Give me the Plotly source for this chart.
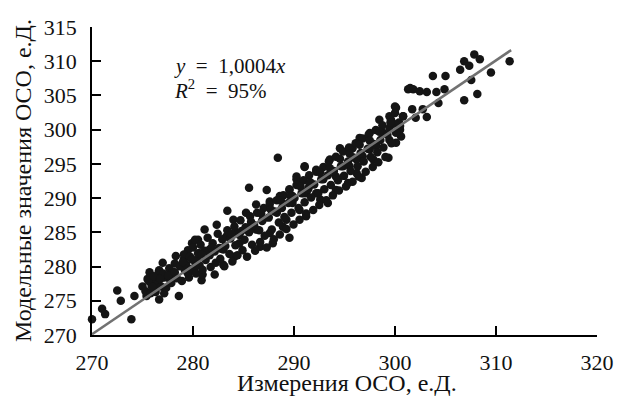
import plotly.graph_objects as go

meas_x = [
    # sparse lower-left part
    270.0, 271.0, 271.3, 272.5, 272.85, 273.9, 274.2, 275.4, 275.7, 275.5, 275.9, 276.3, 276.6, 277.0,
    277.15, 276.65, 277.15, 277.55, 277.9, 278.2, 278.6, 279.1, 277.85, 279.2, 279.5, 279.9, 280.5, 280.85,
    280.2, 279.6, 276.2,
    # 280-292 region
    288.4, 285.55, 287.3, 283.4, 291.05, 290.25, 289.55, 287.9, 286.65, 284.1, 283.0, 282.15, 280.95, 280.2,
    281.15, 282.35, 284.0, 285.25, 286.25, 287.6, 288.6, 289.55, 290.55, 288.9, 290.55, 289.25, 287.6, 286.25,
    284.6, 283.3, 281.65, 280.65, 280.4, 283.0, 284.3, 285.65, 286.9, 288.3, 289.85, 291.2, 291.2,
    # 290-302 region
    301.3, 298.45, 299.45, 300.1, 300.8, 299.35, 297.85, 296.5, 297.5, 295.35, 296.7, 293.35, 291.05, 294.55,
    295.8, 293.55, 292.2, 290.25, 291.5, 292.9, 294.15, 295.5, 296.8, 298.15, 299.45, 300.5, 298.85, 300.1,
    297.5, 296.2, 294.85, 290.95, 292.2, 289.85, 292.6, 294.15, 296.2,
    # upper-right part
    311.35, 307.85, 308.4, 306.85, 307.35, 306.45, 309.5, 307.55, 308.15, 306.85, 303.75, 305.0, 301.5, 301.8,
    302.45, 303.15, 304.1, 304.9, 304.3, 302.75, 301.7, 300.0, 300.0, 300.8, 303.15, 299.6, 300.5, 302.05,
    300.6,
    # dense band
    275.0, 275.3, 275.6, 275.8, 276.1, 276.4, 276.65, 276.85, 277.05, 277.35, 277.65, 277.75, 278.0, 278.3,
    278.4, 278.7, 278.9, 279.1, 279.3, 279.5, 279.7, 279.8, 280.0, 280.2, 280.3, 280.5, 280.65, 280.75,
    280.95, 281.15, 281.25, 281.45, 281.65, 281.75, 281.95, 282.15, 282.25, 282.45, 282.6, 282.7, 282.9, 283.1,
    283.2, 283.4, 283.6, 283.7, 283.9, 284.1, 284.2, 284.4, 284.6, 284.7, 284.9, 285.1, 285.2, 285.35,
    285.55, 285.65, 285.85, 286.05, 286.15, 286.35, 286.55, 286.65, 286.85, 287.0, 287.1, 287.3, 287.5, 287.6,
    287.8, 288.0, 288.1, 288.3, 288.5, 288.6, 288.8, 288.95, 289.05, 289.25, 289.45, 289.55, 289.75, 289.95,
    290.05, 290.25, 290.45, 290.55, 290.75, 290.95, 291.05, 291.2, 291.4, 291.5, 291.7, 291.9, 292.0, 292.2,
    292.4, 292.5, 292.7, 292.9, 293.0, 293.2, 293.35, 293.45, 293.65, 293.85, 293.95, 294.15, 294.35, 294.45,
    294.65, 294.85, 294.95, 295.15, 295.35, 295.45, 295.6, 295.8, 295.9, 296.1, 296.3, 296.4, 296.6, 296.8,
    296.9, 297.1, 297.3, 297.4, 297.6, 297.8, 297.9, 298.1, 298.25, 298.35, 298.55, 298.75, 298.85, 299.05,
    299.25, 299.45, 299.65, 299.85, 300.1, 300.4,
    # points lying on the line
    276.0, 276.75, 277.55, 278.2, 279.0, 279.9, 280.85, 281.85, 282.8, 283.8, 284.8, 285.75, 286.75, 287.7,
    288.7, 289.65, 290.65, 291.6, 292.6, 293.55, 294.55, 295.5, 296.5, 297.5, 298.45, 299.55,
]
model_y = [
    272.3, 273.85, 273.05, 276.5, 275.0, 272.3, 275.7, 275.7, 279.15, 278.2, 277.2, 276.3, 279.15, 280.55,
    278.4, 275.2, 276.1, 278.7, 278.4, 280.45, 275.7, 281.05, 277.6, 279.45, 282.4, 283.4, 283.9, 278.0,
    279.95, 278.4, 278.0,
    295.9, 291.5, 291.2, 288.15, 294.65, 293.15, 284.2, 283.4, 282.9, 281.45, 280.25, 278.85, 278.85, 283.9,
    285.4, 286.1, 286.85, 287.85, 289.05, 289.5, 290.3, 291.2, 292.2, 285.8, 288.25, 286.85, 284.9, 285.4,
    283.4, 284.4, 282.5, 281.95, 280.95, 282.5, 284.9, 285.8, 286.85, 287.85, 289.3, 290.7, 287.35,
    305.9, 301.45, 301.95, 303.2, 301.95, 295.9, 295.65, 298.8, 299.5, 292.2, 292.95, 289.3, 294.55, 297.3,
    297.3, 295.65, 294.15, 292.75, 291.7, 292.75, 293.15, 294.65, 296.1, 297.6, 298.5, 300.0, 299.5, 298.1,
    297.1, 295.65, 294.65, 290.7, 290.7, 290.3, 289.8, 291.2, 293.65,
    310.0, 311.0, 310.3, 310.0, 309.35, 308.75, 308.35, 307.25, 305.2, 304.3, 307.85, 307.85, 306.1, 305.9,
    305.6, 305.5, 305.5, 305.9, 303.9, 303.0, 303.0, 303.4, 302.45, 301.95, 301.85, 301.45, 300.55, 301.75,
    299.0,
    277.1, 276.4, 277.9, 276.1, 278.6, 277.3, 279.45, 277.1, 279.0, 276.9, 279.75, 278.0, 279.25, 281.55,
    278.3, 280.05, 277.9, 281.75, 280.35, 279.0, 281.45, 279.65, 282.8, 280.75, 279.0, 281.95, 280.15, 283.2,
    279.55, 282.3, 280.95, 284.2, 281.65, 279.95, 283.4, 282.2, 280.55, 284.8, 282.7, 281.15, 284.0, 280.05,
    283.0, 285.3, 281.85, 284.1, 280.75, 285.85, 283.1, 281.65, 284.6, 286.75, 282.4, 283.9, 285.75, 281.45,
    285.0, 287.35, 283.2, 286.05, 282.3, 287.85, 285.3, 283.6, 286.65, 288.55, 284.5, 282.8, 287.15, 289.15,
    285.4, 284.0, 288.05, 289.7, 286.45, 284.7, 288.55, 290.4, 287.25, 285.5, 289.3, 291.3, 287.85, 286.15,
    290.0, 291.9, 288.55, 286.85, 290.7, 292.6, 289.4, 287.75, 291.3, 293.35, 290.1, 288.25, 292.0, 293.85,
    290.7, 289.0, 292.75, 294.55, 291.3, 289.7, 293.35, 295.35, 291.9, 290.4, 293.95, 296.05, 292.6, 291.1,
    294.65, 296.8, 293.25, 291.7, 295.35, 297.4, 293.95, 292.4, 295.95, 298.0, 294.65, 293.15, 296.6, 298.7,
    295.35, 293.85, 297.2, 299.3, 296.0, 294.55, 297.9, 299.95, 296.7, 295.25, 298.5, 300.65, 297.4, 296.0,
    299.25, 300.25, 298.0, 300.85, 299.55, 301.05,
    277.0, 278.2, 278.7, 279.15, 280.65, 281.05, 281.75, 282.8, 282.6, 284.8, 285.2, 286.55, 287.75, 288.35,
    289.6, 290.3, 291.7, 292.3, 293.75, 294.35, 295.75, 296.5, 297.8, 298.4, 299.7, 301.05,
]

# Regression line y = 1,0004x over the measured range
slope = 1.0004
fit_x = [270.0, 311.5]
fit_y = [slope * v for v in fit_x]

x_ticks = [270, 280, 290, 300, 310, 320]
y_ticks = [270, 275, 280, 285, 290, 295, 300, 305, 310, 315]

x_title = "Измерения ОСО, е.Д."
y_title = "Модельные значения ОСО, е.Д."

FONT = "Liberation Serif"
INK = "#111111"

fig = go.Figure()
fig.add_trace(go.Scatter(
    x=meas_x, y=model_y, mode="markers",
    marker=dict(color="#151515", size=8.5, line=dict(width=0)),
    cliponaxis=False, showlegend=False, hoverinfo="skip",
))
fig.add_trace(go.Scatter(
    x=fit_x, y=fit_y, mode="lines",
    line=dict(color="#727272", width=2.5),
    showlegend=False, hoverinfo="skip",
))

fig.add_annotation(x=277.9, y=309.3, xref="x", yref="y",
                   text="<i>y</i>&nbsp; = &nbsp;1,0004<i>x</i>", showarrow=False,
                   xanchor="left", yanchor="middle",
                   font=dict(family=FONT, size=21, color=INK))
fig.add_annotation(x=277.9, y=305.8, xref="x", yref="y",
                   text="<i>R</i><sup>2</sup>&nbsp; = &nbsp;95%", showarrow=False,
                   xanchor="left", yanchor="middle",
                   font=dict(family=FONT, size=21, color=INK))

# axis titles
fig.add_annotation(x=0.505, y=0, xref="paper", yref="paper", yshift=-48,
                   text=x_title, showarrow=False, xanchor="center", yanchor="middle",
                   font=dict(family=FONT, size=24, color=INK))
fig.add_annotation(x=0, y=0.5, xref="paper", yref="paper", xshift=-69,
                   text=y_title, showarrow=False, xanchor="center", yanchor="middle",
                   textangle=-90, font=dict(family=FONT, size=24, color=INK))

axis_common = dict(
    showline=True, linecolor="black", linewidth=1.5,
    ticks="inside", ticklen=9, tickwidth=1.5, tickcolor="black",
    showgrid=False, zeroline=False, mirror=False, automargin=False,
    tickfont=dict(family=FONT, size=22, color=INK),
)

fig.update_xaxes(range=[270, 320], tickvals=x_ticks, ticklabelstandoff=7, **axis_common)
fig.update_yaxes(range=[270, 315], tickvals=y_ticks, ticklabelstandoff=9, **axis_common)

fig.update_layout(
    width=619, height=396,
    margin=dict(l=92, r=22, t=27, b=61),
    paper_bgcolor="white", plot_bgcolor="white",
)

# remove the default page margin so the figure sits at the window's top-left corner
fig.write_html("out.html",
               config={"displayModeBar": False},
               post_script="document.body.style.margin='0';document.body.style.overflow='hidden';")
